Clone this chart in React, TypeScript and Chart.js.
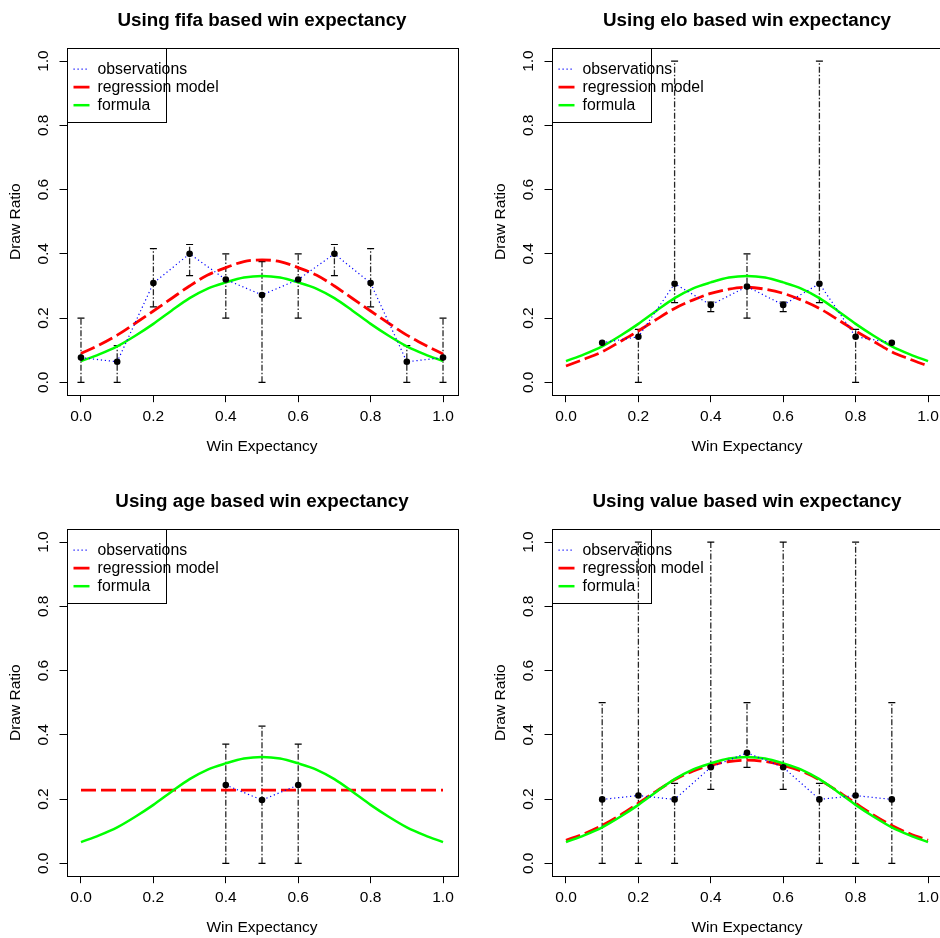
import React, { useEffect, useRef } from "react";
import { Chart, registerables } from "chart.js";

Chart.register(...registerables);

const FONT = "'Liberation Sans', Arial, Helvetica, sans-serif";

// ---- axes ----
const xTicks = [0, 0.2, 0.4, 0.6, 0.8, 1.0];
const yTicks = [0, 0.2, 0.4, 0.6, 0.8, 1.0];
const xLabel = "Win Expectancy";
const yLabel = "Draw Ratio";
const legendLabels = ["observations", "regression model", "formula"];

// ---- x positions ----
const obsX = [0, 0.1, 0.2, 0.3, 0.4, 0.5, 0.6, 0.7, 0.8, 0.9, 1.0];
const curveX = [0, 0.05, 0.1, 0.15, 0.2, 0.25, 0.3, 0.35, 0.4, 0.45, 0.5, 0.55, 0.6, 0.65, 0.7, 0.75, 0.8, 0.85, 0.9, 0.95, 1.0];

// ---- formula curve (same in every panel) ----
const formulaY = [0.066, 0.087, 0.112, 0.145, 0.182, 0.223, 0.262, 0.292, 0.311, 0.326, 0.331, 0.326, 0.311, 0.292, 0.262, 0.223, 0.182, 0.145, 0.112, 0.087, 0.066];

// ---- fifa ----
const fifaObs = [0.077, 0.064, 0.309, 0.4, 0.32, 0.272, 0.32, 0.4, 0.309, 0.064, 0.077];
const fifaLo = [0, 0, 0.235, 0.332, 0.2, 0, 0.2, 0.332, 0.235, 0, 0];
const fifaHi = [0.2, 0.114, 0.416, 0.429, 0.4, 0.376, 0.4, 0.429, 0.416, 0.114, 0.2];
const fifaReg = [0.09, 0.116, 0.147, 0.184, 0.222, 0.261, 0.3, 0.334, 0.357, 0.376, 0.381, 0.376, 0.357, 0.334, 0.3, 0.261, 0.222, 0.184, 0.147, 0.116, 0.088];

// ---- elo ----
const eloObs = [null, 0.123, 0.142, 0.307, 0.241, 0.298, 0.241, 0.307, 0.142, 0.123, null];
const eloLo = [null, null, 0, 0.248, 0.22, 0.2, 0.22, 0.248, 0, null, null];
const eloHi = [null, null, 0.165, 1.0, 0.25, 0.4, 0.25, 1.0, 0.165, null, null];
const eloReg = [0.051, 0.072, 0.095, 0.127, 0.16, 0.196, 0.23, 0.256, 0.277, 0.29, 0.296, 0.29, 0.277, 0.256, 0.23, 0.196, 0.16, 0.127, 0.095, 0.072, 0.051];

// ---- age ----
const ageObs = [null, null, null, null, 0.244, 0.197, 0.244, null, null, null, null];
const ageLo = [null, null, null, null, 0, 0, 0, null, null, null, null];
const ageHi = [null, null, null, null, 0.371, 0.427, 0.371, null, null, null, null];
const ageReg = [0.228, 0.228, 0.228, 0.228, 0.228, 0.228, 0.228, 0.228, 0.228, 0.228, 0.228, 0.228, 0.228, 0.228, 0.228, 0.228, 0.228, 0.228, 0.228, 0.228, 0.228];

// ---- value ----
const valueObs = [null, 0.199, 0.211, 0.199, 0.299, 0.344, 0.299, 0.199, 0.211, 0.199, null];
const valueLo = [null, 0, 0, 0, 0.23, 0.299, 0.23, 0, 0, 0, null];
const valueHi = [null, 0.5, 1.0, 0.249, 1.0, 0.5, 1.0, 0.249, 1.0, 0.5, null];
const valueReg = [0.072, 0.092, 0.118, 0.15, 0.187, 0.225, 0.26, 0.287, 0.305, 0.317, 0.321, 0.317, 0.305, 0.287, 0.26, 0.225, 0.187, 0.15, 0.118, 0.092, 0.072];

const titles = [
  "Using fifa based win expectancy",
  "Using elo based win expectancy",
  "Using age based win expectancy",
  "Using value based win expectancy",
];

const OBS_COLOR = "#0000ff";
const REG_COLOR = "#ff0000";
const FORM_COLOR = "#00ff00";
const OBS_DASH = [1.2, 2.8];
const REG_DASH = [15, 5];

const PANEL_W = 485;
const PANEL_H = 481;

type Num = number | null;

interface PanelProps {
  title: string;
  obs: Num[];
  lo: Num[];
  hi: Num[];
  reg: number[];
  left: number;
  top: number;
}

const boxPlugin = {
  id: "rBox",
  afterDraw(chart: any) {
    const { ctx, chartArea } = chart;
    const l = Math.round(chartArea.left) + 0.5;
    const t = Math.round(chartArea.top) + 0.5;
    const r = Math.round(chartArea.right) + 0.5;
    const b = Math.round(chartArea.bottom) + 0.5;
    ctx.save();
    ctx.setLineDash([]);
    ctx.strokeStyle = "#000";
    ctx.lineWidth = 1;
    ctx.strokeRect(l, t, r - l, b - t);

    // legend (R style, top-left, transparent background)
    const lw = 99;
    const lh = 74;
    ctx.strokeRect(l, t, lw, lh);
    const styles = [
      { color: OBS_COLOR, dash: OBS_DASH, width: 1.2 },
      { color: REG_COLOR, dash: [15, 0], width: 2.8 },
      { color: FORM_COLOR, dash: [], width: 2.5 },
    ];
    ctx.font = `15.8px ${FONT}`;
    ctx.textBaseline = "middle";
    ctx.textAlign = "left";
    legendLabels.forEach((label, i) => {
      const y = chartArea.top + 21 + i * 18;
      const s = styles[i];
      ctx.beginPath();
      ctx.setLineDash(s.dash);
      ctx.strokeStyle = s.color;
      ctx.lineWidth = s.width;
      ctx.moveTo(l + 6, y);
      ctx.lineTo(l + 22, y);
      ctx.stroke();
      ctx.setLineDash([]);
      ctx.fillStyle = "#000";
      ctx.fillText(label, l + 30, y + 0.5);
    });
    ctx.restore();
  },
};

function Panel({ title, obs, lo, hi, reg, left, top }: PanelProps) {
  const ref = useRef<HTMLCanvasElement | null>(null);
  useEffect(() => {
    const pts = (xs: number[], ys: Num[]) =>
      xs.map((x, i) => ({ x, y: ys[i] })).filter((p) => p.y !== null);
    const errPts: any[] = [];
    obsX.forEach((x, i) => {
      if (lo[i] !== null && hi[i] !== null) {
        errPts.push({ x, y: lo[i] }, { x, y: hi[i] }, { x, y: null });
      }
    });

    const chart = new Chart(ref.current as HTMLCanvasElement, {
      type: "scatter",
      data: {
        datasets: [
          {
            label: "observations",
            data: pts(obsX, obs),
            showLine: true,
            borderColor: OBS_COLOR,
            borderWidth: 1.2,
            borderDash: OBS_DASH,
            pointRadius: 3.3,
            pointBackgroundColor: "#000",
            pointBorderColor: "#000",
            pointBorderWidth: 0,
          },
          {
            label: "formula",
            data: pts(curveX, formulaY),
            showLine: true,
            borderColor: FORM_COLOR,
            borderWidth: 2.5,
            pointRadius: 0,
            cubicInterpolationMode: "monotone",
          },
          {
            label: "regression model",
            data: pts(curveX, reg),
            showLine: true,
            borderColor: REG_COLOR,
            borderWidth: 2.8,
            borderDash: REG_DASH,
            pointRadius: 0,
            cubicInterpolationMode: "monotone",
          },
          {
            label: "error",
            data: errPts,
            showLine: true,
            spanGaps: false,
            borderColor: "rgba(0,0,0,0.85)",
            borderWidth: 1.3,
            borderDash: [6, 2, 1.5, 2],
            pointStyle: "line",
            pointRadius: 3.5,
            pointBorderColor: "#000",
            pointBorderWidth: 1.2,
          },
        ],
      } as any,
      options: {
        animation: false,
        responsive: false,
        events: [],
        layout: { padding: { left: 0, right: 27.5, top: 0, bottom: 0 } },
        plugins: {
          legend: { display: false },
          tooltip: { enabled: false },
          title: {
            display: true,
            text: title,
            fullSize: false,
            color: "#000",
            font: { family: FONT, size: 18.8, weight: "bold" },
            padding: { top: 9.5, bottom: 16.14 },
          },
        },
        scales: {
          x: {
            type: "linear",
            min: -0.04,
            max: 1.04,
            afterBuildTicks: (s: any) => {
              s.ticks = xTicks.map((v) => ({ value: v }));
            },
            afterFit: (s: any) => {
              s.height = PANEL_H - 395.2;
            },
            ticks: {
              color: "#000",
              font: { family: FONT, size: 15.5 },
              padding: 5,
              maxRotation: 0,
              minRotation: 0,
              callback: (v: any) => Number(v).toFixed(1),
            },
            grid: {
              display: true,
              drawOnChartArea: false,
              drawTicks: true,
              tickLength: 7,
              color: "#000",
              lineWidth: 1,
            },
            border: { display: false },
            title: {
              display: true,
              text: xLabel,
              color: "#000",
              font: { family: FONT, size: 15.5 },
              padding: { top: 0, bottom: 25 },
            },
          },
          y: {
            type: "linear",
            min: -0.04,
            max: 1.04,
            afterBuildTicks: (s: any) => {
              s.ticks = yTicks.map((v) => ({ value: v }));
            },
            afterFit: (s: any) => {
              s.width = 66.5;
            },
            ticks: {
              color: "#000",
              font: { family: FONT, size: 15.5 },
              padding: 5,
              minRotation: 90,
              maxRotation: 90,
              crossAlign: "center",
              callback: (v: any) => Number(v).toFixed(1),
            },
            grid: {
              display: true,
              drawOnChartArea: false,
              drawTicks: true,
              tickLength: 7,
              color: "#000",
              lineWidth: 1,
            },
            border: { display: false },
            title: {
              display: true,
              text: yLabel,
              color: "#000",
              font: { family: FONT, size: 15.5 },
              padding: { top: 6, bottom: 0 },
            },
          },
        },
      } as any,
      plugins: [boxPlugin],
    });
    return () => chart.destroy();
  }, []);

  return (
    <canvas
      ref={ref}
      width={PANEL_W}
      height={PANEL_H}
      style={{ position: "absolute", left, top, width: PANEL_W, height: PANEL_H, display: "block" }}
    />
  );
}

export default function App() {
  return (
    <div
      style={{
        position: "fixed",
        left: 0,
        top: 0,
        width: 940,
        height: 938,
        overflow: "hidden",
        background: "#fff",
      }}
    >
      <Panel title={titles[0]} obs={fifaObs} lo={fifaLo} hi={fifaHi} reg={fifaReg} left={0} top={0} />
      <Panel title={titles[1]} obs={eloObs} lo={eloLo} hi={eloHi} reg={eloReg} left={PANEL_W} top={0} />
      <Panel title={titles[2]} obs={ageObs} lo={ageLo} hi={ageHi} reg={ageReg} left={0} top={PANEL_H} />
      <Panel title={titles[3]} obs={valueObs} lo={valueLo} hi={valueHi} reg={valueReg} left={PANEL_W} top={PANEL_H} />
    </div>
  );
}
